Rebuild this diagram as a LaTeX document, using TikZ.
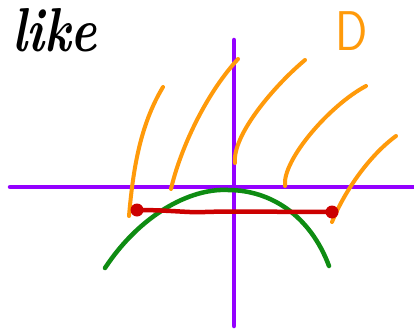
\documentclass[tikz,border=0pt]{standalone}
\usepackage{fontspec}
\begin{document}
\begin{tikzpicture}[x=1pt,y=-1pt,
  axis/.style={line width=4.5pt,draw=axiscol,line cap=round},
  field/.style={line width=4pt,draw=fieldcol,line cap=round},
  arc/.style={line width=4.5pt,draw=arccol,line cap=round},
  seg/.style={line width=4.5pt,draw=segcol,line cap=round},
  dot/.style={circle,fill=segcol,inner sep=0pt,minimum size=13pt}]
\definecolor{axiscol}{HTML}{9400FF}
\definecolor{fieldcol}{HTML}{FF9A0A}
\definecolor{arccol}{HTML}{0E8C12}
\definecolor{segcol}{HTML}{CC0000}
\useasboundingbox (0,0) rectangle (414,329);
\fill[white] (0,0) rectangle (414,329);
% axes
\draw[axis] (10,187) -- (414,187);
\draw[axis] (234,40) -- (234,326);
% orange field lines
\draw[field] (163,87) .. controls (140,125) and (133,170) .. (129,216);
\draw[field] (238,59) .. controls (205,95) and (180,150) .. (171,189);
\draw[field] (305,60) .. controls (275,85) and (232,135) .. (235,163);
\draw[field] (366,86) .. controls (330,105) and (282,160) .. (285,186);
\draw[field] (396,136) .. controls (370,155) and (345,190) .. (332,222);
% green arc
\draw[arc] (105,268) .. controls (140,215) and (190,188) .. (228,190)
  .. controls (270,190) and (310,215) .. (329,266);
% red segment
\node[dot] (p) at (137,210) {};
\node[dot] (q) at (332,212) {};
\draw[seg] (p.center) .. controls (170,210) and (190,213) .. (205,212)
  .. controls (230,211) and (280,212) .. (q.center);
% texts
\node[anchor=west,inner sep=0pt,font=\fontsize{62}{62}\selectfont\bfseries\itshape,xscale=0.8] (t) at (12,30) {like};
\node[inner sep=0pt,text=fieldcol,font=\fontsize{56}{56}\selectfont\sffamily,xscale=0.85] (d) at (352,31) {D};
\end{tikzpicture}
\end{document}
